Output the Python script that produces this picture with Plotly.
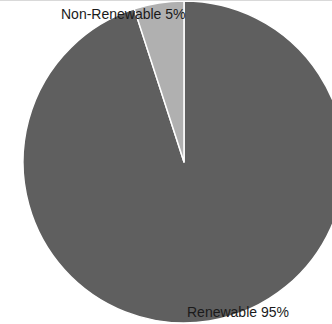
import plotly.graph_objects as go

labels = ["Renewable", "Non-Renewable"]
values = [95, 5]
colors = ["#5f5f5f", "#b0b0b0"]

W, H = 350, 324
cx, cy, r = 184, 162, 161

fig = go.Figure(go.Pie(
    labels=labels,
    values=values,
    sort=False,
    direction="clockwise",
    rotation=0,
    marker=dict(colors=colors, line=dict(color="white", width=1.5)),
    textinfo="none",
    hoverinfo="label+percent",
    domain=dict(x=[(cx - r) / W, (cx + r) / W], y=[0, 1]),
    showlegend=False,
))

total = sum(values)
text_pos = [(238, 312), (124, 14)]
for lab, val, (tx, ty) in zip(labels, values, text_pos):
    fig.add_annotation(
        x=tx / W, y=1 - ty / H, xref="paper", yref="paper",
        text=f"{lab} {round(val / total * 100)}%",
        showarrow=False, xanchor="center", yanchor="middle",
        font=dict(family="Liberation Sans, Arial, sans-serif", size=14, color="#1a1a1a"),
    )

fig.add_shape(type="line", xref="paper", yref="paper", x0=0, x1=1, y0=1 - 0.5 / H, y1=1 - 0.5 / H,
              line=dict(color="#d9d9d9", width=1))

fig.update_layout(
    width=W, height=H,
    margin=dict(l=0, r=0, t=0, b=0),
    paper_bgcolor="white", plot_bgcolor="white",
)

fig.write_html("out.html", post_script="document.documentElement.style.overflow='hidden';document.body.style.overflow='hidden';document.body.style.margin='0';")
